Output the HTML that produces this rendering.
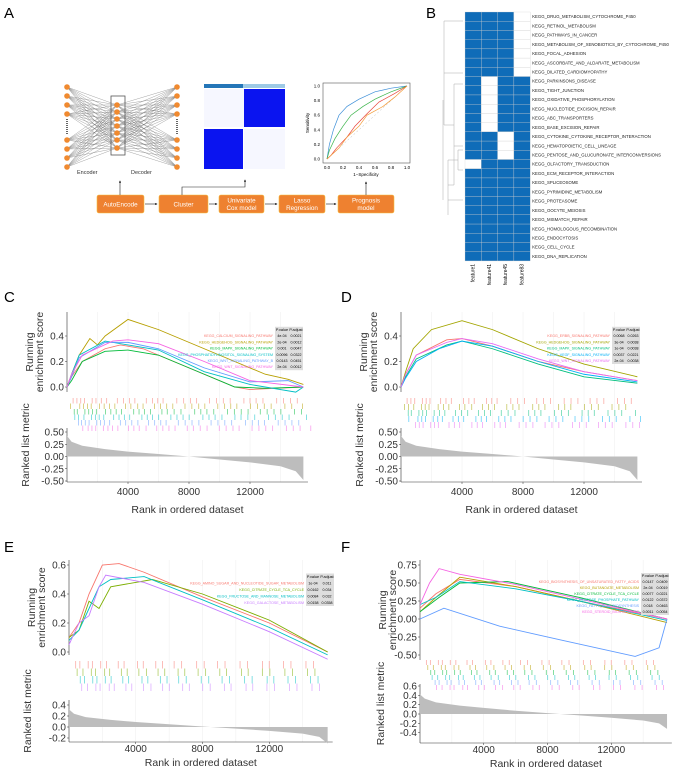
<!DOCTYPE html>
<html><head><meta charset="utf-8"><style>
body{margin:0;background:#fff;}
svg{display:block;font-family:"Liberation Sans",sans-serif;}
</style></head><body>
<svg id="fig" width="687" height="772" viewBox="0 0 687 772">
<g>
<text x="4" y="18" font-size="15">A</text>
<g id="net"></g>
<rect x="111" y="96" width="14" height="59" fill="none" stroke="#555" stroke-width="0.8"/>
<text x="77" y="174" font-size="5.5" fill="#333">Encoder</text>
<text x="131" y="174" font-size="5.5" fill="#333">Decoder</text>
<g>
<rect x="204" y="84" width="81" height="86" fill="#fff"/>
<rect x="204" y="84" width="39" height="4" fill="#2476b8"/>
<rect x="243" y="84" width="42" height="4" fill="#9ecae6"/>
<rect x="244" y="89" width="41" height="38" fill="#0a14f0"/>
<rect x="204" y="129" width="39" height="40" fill="#0a14f0"/>
<rect x="204" y="89" width="40" height="38" fill="#dde0ff" opacity="0.25"/>
<rect x="244" y="129" width="41" height="40" fill="#dde0ff" opacity="0.25"/>
</g>
<g id="roc"></g>
<g id="flow"></g>
</g>
<g id="pb">
<text x="426" y="18" font-size="15">B</text>
</g>
<g id="pc"><text x="4" y="302" font-size="15">C</text></g>
<g id="pd"><text x="341" y="302" font-size="15">D</text></g>
<g id="pe"><text x="4" y="552" font-size="15">E</text></g>
<g id="pf"><text x="341" y="552" font-size="15">F</text></g>
</svg>
<script>
// ---------- data ----------
const bRows=["KEGG_DRUG_METABOLISM_CYTOCHROME_P450","KEGG_RETINOL_METABOLISM","KEGG_PATHWAYS_IN_CANCER","KEGG_METABOLISM_OF_XENOBIOTICS_BY_CYTOCHROME_P450","KEGG_FOCAL_ADHESION","KEGG_ASCORBATE_AND_ALDARATE_METABOLISM","KEGG_DILATED_CARDIOMYOPATHY","KEGG_PARKINSONS_DISEASE","KEGG_TIGHT_JUNCTION","KEGG_OXIDATIVE_PHOSPHORYLATION","KEGG_NUCLEOTIDE_EXCISION_REPAIR","KEGG_ABC_TRANSPORTERS","KEGG_BASE_EXCISION_REPAIR","KEGG_CYTOKINE_CYTOKINE_RECEPTOR_INTERACTION","KEGG_HEMATOPOIETIC_CELL_LINEAGE","KEGG_PENTOSE_AND_GLUCURONATE_INTERCONVERSIONS","KEGG_OLFACTORY_TRANSDUCTION","KEGG_ECM_RECEPTOR_INTERACTION","KEGG_SPLICEOSOME","KEGG_PYRIMIDINE_METABOLISM","KEGG_PROTEASOME","KEGG_OOCYTE_MEIOSIS","KEGG_MISMATCH_REPAIR","KEGG_HOMOLOGOUS_RECOMBINATION","KEGG_ENDOCYTOSIS","KEGG_CELL_CYCLE","KEGG_DNA_REPLICATION"];
const bCols=["feature1","feature41","feature45","feature83"];
const bMatrix=[[1,1,1,0],[1,1,1,0],[1,1,1,0],[1,1,1,0],[1,1,1,0],[1,1,1,0],[1,1,1,0],
[1,0,1,1],[1,0,1,1],[1,0,1,1],[1,0,1,1],[1,0,1,1],[1,0,1,1],
[1,1,0,1],[1,1,0,1],[1,1,0,1],[0,1,1,1],[1,1,1,1],[1,1,1,1],[1,1,1,1],[1,1,1,1],[1,1,1,1],[1,1,1,1],[1,1,1,1],[1,1,1,1],[1,1,1,1],[1,1,1,1]];

const cNames=["KEGG_CALCIUM_SIGNALING_PATHWAY","KEGG_HEDGEHOG_SIGNALING_PATHWAY","KEGG_MAPK_SIGNALING_PATHWAY","KEGG_PHOSPHATIDYLINOSITOL_SIGNALING_SYSTEM","KEGG_WNT_SIGNALING_PATHWAY_B","KEGG_WNT_SIGNALING_PATHWAY"];
const cP=["4e-04","2e-04","0.001","0.0096","0.0143","2e-04"];
const cPadj=["0.0021","0.0012","0.0047","0.0322","0.0451","0.0012"];
const cRank=[[0,300,1000,2500,3500,5000,8000,11000,12000,15500],[0,300,800,1500,2000,2500,4000,6000,10000,13000,14500,15500],[0,300,1000,2500,4000,6000,9000,11000,13000,15500],[0,300,800,2500,4000,6000,9000,12000,15000,15500],[0,300,800,2500,4000,6000,9000,12000,14500,15500],[0,300,1000,3000,4000,6000,9000,12000,15500]];
const cES=[[0,0.08,0.2,0.3,0.33,0.3,0.15,0.0,-0.02,0],[0,0.1,0.25,0.38,0.33,0.4,0.53,0.45,0.25,0.1,0.06,0.02],[0,0.05,0.2,0.28,0.29,0.25,0.1,0.0,-0.01,0],[0,0.1,0.25,0.36,0.33,0.29,0.12,0.02,-0.04,0],[0,0.08,0.23,0.35,0.35,0.3,0.15,0.04,0.05,0],[0,0.1,0.25,0.36,0.37,0.34,0.2,0.05,0]];

const dNames=["KEGG_ERBB_SIGNALING_PATHWAY","KEGG_HEDGEHOG_SIGNALING_PATHWAY","KEGG_MAPK_SIGNALING_PATHWAY","KEGG_VEGF_SIGNALING_PATHWAY","KEGG_WNT_SIGNALING_PATHWAY"];
const dP=["0.0068","3e-04","1e-04","0.0037","2e-04"];
const dPadj=["0.0263","0.0038","0.0038","0.0221","0.0038"];
const dRank=[[0,300,1000,3000,4000,6000,9000,12000,15500],[0,300,800,2000,4000,6000,9000,12000,15500],[0,300,1000,3000,4000,6000,9000,12000,15500],[0,300,1000,2500,4000,6000,9000,12000,15500],[0,300,1000,3000,4000,6000,9000,12000,15500]];
const dES=[[0,0.1,0.25,0.37,0.38,0.32,0.2,0.12,0.05],[0,0.12,0.3,0.45,0.52,0.45,0.3,0.18,0.08],[0,0.08,0.22,0.33,0.36,0.3,0.18,0.08,0.03],[0,0.07,0.2,0.3,0.36,0.32,0.2,0.1,0.04],[0,0.1,0.25,0.35,0.38,0.34,0.22,0.12,0.05]];

const eNames=["KEGG_AMINO_SUGAR_AND_NUCLEOTIDE_SUGAR_METABOLISM","KEGG_CITRATE_CYCLE_TCA_CYCLE","KEGG_FRUCTOSE_AND_MANNOSE_METABOLISM","KEGG_GALACTOSE_METABOLISM"];
const eP=["1e-04","0.0162","0.0084","0.0158"];
const ePadj=["0.011","0.034","0.032","0.0358"];
const eRank=[[0,600,1200,2000,3000,4500,8000,12000,15500],[0,600,1200,1800,2500,5000,8000,12000,15500],[0,600,1200,1800,2500,4500,8000,12000,15500],[0,600,1200,1800,2200,4500,8000,12000,15500]];
const eES=[[0.1,0.2,0.4,0.6,0.61,0.55,0.38,0.2,0.0],[0.1,0.15,0.35,0.3,0.45,0.5,0.4,0.22,0.0],[0.08,0.15,0.3,0.45,0.5,0.52,0.36,0.17,-0.02],[0.05,0.2,0.25,0.45,0.53,0.48,0.33,0.14,-0.05]];

const fNames=["KEGG_BIOSYNTHESIS_OF_UNSATURATED_FATTY_ACIDS","KEGG_BUTANOATE_METABOLISM","KEGG_CITRATE_CYCLE_TCA_CYCLE","KEGG_PENTOSE_PHOSPHATE_PATHWAY","KEGG_FATTY_ACID_BIOSYNTHESIS","KEGG_STEROID_BIOSYNTHESIS"];
const fP=["0.0147","2e-04","0.0077","0.0122","0.018","0.0011"];
const fPadj=["0.0409","0.0019","0.0221","0.0372","0.0463","0.0054"];
const fRank=[[0,1000,2500,6000,10000,15500],[0,1000,2500,6000,10000,15500],[0,1200,2500,5500,10000,15500],[0,1000,2500,6000,10000,15500],[0,1500,5000,9000,13500,15000,15500],[0,600,1200,2500,6000,10000,15500]];
const fES=[[0.15,0.35,0.55,0.45,0.25,0.0],[0.1,0.3,0.58,0.45,0.25,-0.05],[0.1,0.3,0.5,0.52,0.3,0.0],[0.2,0.3,0.52,0.42,0.25,-0.02],[0.0,0.15,-0.1,-0.3,-0.52,-0.4,0.0],[0.2,0.5,0.7,0.62,0.48,0.28,0.0]];

const metricRank=[0,300,1000,2500,4000,6000,8000,10000,12000,14000,15000,15500];
const metricC=[0.42,0.3,0.22,0.15,0.1,0.05,0.0,-0.06,-0.12,-0.2,-0.3,-0.48];
const metricE=[0.32,0.24,0.18,0.13,0.09,0.05,0.01,-0.03,-0.07,-0.12,-0.18,-0.3];
const metricF=[0.42,0.33,0.25,0.18,0.13,0.07,0.02,-0.03,-0.08,-0.14,-0.2,-0.32];

const hitsA=[200,400,650,900,1150,1400,1650,1900,2250,2600,2950,3300,3700,4100,4450,4800,5200,5600,5950,6300,6750,7200,7650,8100,8500,8900,9350,9800,10250,10700,11150,11600,12000,12400,12850,13300,13750,14200,14650,15100];
const hitsB=[100,350,700,950,1200,1450,1700,2000,2300,2650,3000,3350,3700,4050,4500,4850,5200,5600,6000,6400,6800,7200,7600,8050,8500,8900,9300,9750,10200,10600,11000,11450,11900,12350,12800,13250,13700,14150,14600,15300];
const tickX=[4000,8000,12000];
const esTicksC=[0,0.2,0.4], esTicksE=[0,0.2,0.4,0.6], esTicksF=[-0.5,-0.25,0,0.25,0.5,0.75];
const mTicksC=[-0.5,-0.25,0,0.25,0.5], mTicksE=[-0.2,0,0.2,0.4], mTicksF=[-0.4,-0.2,0,0.2,0.4,0.6];

const NS="http://www.w3.org/2000/svg";
function mk(p,tag,at,txt){const e=document.createElementNS(NS,tag);for(const k in at)e.setAttribute(k,at[k]);if(txt!==undefined)e.textContent=txt;p.appendChild(e);return e;}

// ---------- panel A ----------
const net=document.getElementById('net');
const lY=[87,96,105,114,140,149,158,167], mY=[105,112,119,126,133,140,148];
for(const a of lY)for(const b of mY){mk(net,'line',{x1:67,y1:a,x2:117,y2:b,stroke:'#666','stroke-width':0.3});mk(net,'line',{x1:177,y1:a,x2:117,y2:b,stroke:'#666','stroke-width':0.3});}
for(const a of lY){for(const x of [67,177]){const c=mk(net,'circle',{cx:x,cy:a,r:2.8,fill:'#f08a30'});}}
for(const b of mY){const c=mk(net,'circle',{cx:117,cy:b,r:2.8,fill:'#f08a30'});}
for(const x of [67,177])mk(net,'line',{x1:x,y1:119,x2:x,y2:135,stroke:'#000','stroke-width':1.2,'stroke-dasharray':'1,1'});
const roc=document.getElementById('roc');
mk(roc,'rect',{x:323,y:83,width:87,height:80,fill:'none',stroke:'#555','stroke-width':0.6});
mk(roc,'line',{x1:327,y1:159,x2:407,y2:86,stroke:'#bbb','stroke-width':0.5,'stroke-dasharray':'2,2'});
const rocRank=[[0,0.03,0.08,0.15,0.25,0.4,0.6,0.8,1],[0,0.03,0.1,0.2,0.3,0.45,0.6,0.8,1],[0,0.05,0.12,0.25,0.35,0.5,0.65,0.85,1],[0,0.05,0.15,0.25,0.4,0.5,0.7,0.85,1]];
const rocSens=[[0,0.2,0.4,0.6,0.72,0.82,0.92,0.97,1],[0,0.12,0.28,0.45,0.6,0.72,0.82,0.92,1],[0,0.05,0.15,0.3,0.45,0.62,0.78,0.9,1],[0,0.05,0.15,0.3,0.45,0.6,0.72,0.85,1]];
const rocCol=['#3d8fd8','#3cb44b','#e8453c','#f39c3a'];
const rx=v=>327+v*80, ry=v=>159-v*73;
rocRank.forEach((r,i)=>{const p=mk(roc,'polyline',{points:r.map((v,j)=>rx(v)+','+ry(rocSens[i][j])).join(' '),fill:'none',stroke:rocCol[i],'stroke-width':0.7});});
[0,0.2,0.4,0.6,0.8,1].forEach(v=>{mk(roc,'text',{x:320,y:ry(v)+1.5,'font-size':4.5,'text-anchor':'end'},v.toFixed(1));mk(roc,'text',{x:rx(v),y:169,'font-size':4.5,'text-anchor':'middle'},v.toFixed(1));});
mk(roc,'text',{x:366,y:176,'font-size':4.5,'text-anchor':'middle'},'1−Specificity');
mk(roc,'text',{x:309,y:123,'font-size':4.5,'text-anchor':'middle',transform:'rotate(-90 309 123)'},'Sensitivity');
const flow=document.getElementById('flow');
const boxes=[["AutoEncode",97,47],["Cluster",159,49],["Univariate|Cox model",219,45],["Lasso|Regression",279,46],["Prognosis|model",338,56]];
boxes.forEach((b,i)=>{const g=mk(flow,'g',{});
mk(g,'rect',{x:b[1],y:195,width:b[2],height:18,rx:2,fill:'#ee8130',stroke:'#f5c040','stroke-width':0.6});
const ls=b[0].split('|');ls.forEach((t,k)=>mk(g,'text',{x:b[1]+b[2]/2,y:ls.length==1?206.5:202.5+k*7.5,'font-size':6.3,fill:'#fff','text-anchor':'middle'},t));
if(i<4)mk(flow,'line',{x1:b[1]+b[2]+1,y1:204,x2:boxes[i+1][1]-2,y2:204,stroke:'#222','stroke-width':0.6,'marker-end':'url(#ar)'});});
const defs=mk(document.getElementById('fig'),'defs',{});const mkr=mk(defs,'marker',{id:'ar',markerWidth:4,markerHeight:4,refX:3,refY:2,orient:'auto'});mk(mkr,'path',{d:'M0,0 L4,2 L0,4z',fill:'#222'});
mk(flow,'line',{x1:120,y1:195,x2:120,y2:181,stroke:'#222','stroke-width':0.6,'marker-end':'url(#ar)'});
mk(flow,'polyline',{points:'182,195 182,187 245,187 245,180',fill:'none',stroke:'#222','stroke-width':0.6,'marker-end':'url(#ar)'});
mk(flow,'line',{x1:366,y1:195,x2:366,y2:182,stroke:'#222','stroke-width':0.6,'marker-end':'url(#ar)'});

// ---------- panel B ----------
const pb=document.getElementById('pb');
const bx0=465,by0=12,cw=16.3,rh=9.22;
bMatrix.forEach((row,r)=>{row.forEach((v,c)=>{const e=mk(pb,'rect',{x:bx0+c*cw,y:by0+r*rh,width:cw,height:rh,fill:v?'#0f6cb8':'#fff',stroke:'#ccc','stroke-width':0.3});});
const t=mk(pb,'text',{x:bx0+4*cw+2,y:by0+r*rh+6.2,'font-size':4.3,fill:'#222'},bRows[r]);});
bCols.forEach((c,i)=>{const x=bx0+i*cw+cw/2+1.5,y=by0+27*rh+3;const t=mk(pb,'text',{x:x,y:y,'font-size':5,transform:`rotate(-90 ${x} ${y})`,'text-anchor':'end'},c);});
mk(pb,'path',{d:'M463,21 H444 V125 M444,73 H463 M444,125 H454 V84 H463 M454,125 V185 M454,146 H463 M454,185 H448 V160 H458 V150 H463 M458,160 V170 H463 M448,185 V215 M448,200 H463 M443,100 V200',fill:'none',stroke:'#aaa','stroke-width':0.5,});

// ---------- GSEA panels ----------
function gsea(id,cfg){
 const g=document.getElementById(id);
 const X=v=>cfg.x0+v*(cfg.x1-cfg.x0)/16000;
 const Y=v=>cfg.e0+(v-cfg.eRef)*(cfg.e1-cfg.e0)/(cfg.eTop-cfg.eRef);
 const M=v=>cfg.m0+(v-cfg.mRef)*(cfg.m1-cfg.m0)/(cfg.mTop-cfg.mRef);
 const right=X(15800);
 [2000,4000,6000,8000,10000,12000,14000].forEach(v=>mk(g,'line',{x1:X(v),y1:cfg.top,x2:X(v),y2:cfg.bot,stroke:'#eee','stroke-width':0.5}));
 mk(g,'line',{x1:cfg.x0,y1:cfg.top,x2:cfg.x0,y2:cfg.esBot,stroke:'#333','stroke-width':0.6});
 mk(g,'line',{x1:cfg.x0,y1:cfg.mTopY,x2:cfg.x0,y2:cfg.bot,stroke:'#333','stroke-width':0.6});
 mk(g,'line',{x1:cfg.x0,y1:cfg.bot,x2:right,y2:cfg.bot,stroke:'#333','stroke-width':0.6});
 cfg.esTicks.forEach(v=>{mk(g,'line',{x1:cfg.x0-2,y1:Y(v),x2:cfg.x0,y2:Y(v),stroke:'#333','stroke-width':0.5});mk(g,'text',{x:cfg.x0-3,y:Y(v)+3.5,'font-size':10,fill:'#333','text-anchor':'end'},v.toFixed(cfg.dec));});
 cfg.mTicks.forEach(v=>{mk(g,'line',{x1:cfg.x0-2,y1:M(v),x2:cfg.x0,y2:M(v),stroke:'#333','stroke-width':0.5});mk(g,'text',{x:cfg.x0-3,y:M(v)+3.5,'font-size':10,fill:'#333','text-anchor':'end'},v.toFixed(cfg.mdec));});
 tickX.forEach(v=>{mk(g,'line',{x1:X(v),y1:cfg.bot,x2:X(v),y2:cfg.bot+2,stroke:'#333','stroke-width':0.5});mk(g,'text',{x:X(v),y:cfg.bot+cfg.tOff,'font-size':10,fill:'#333','text-anchor':'middle'},String(v));});
 const xt=mk(g,'text',{x:(cfg.x0+right)/2,y:cfg.bot+cfg.ttOff,'font-size':10.5,fill:'#333','text-anchor':'middle'},'Rank in ordered dataset');
 const ey=(cfg.top+cfg.esBot)/2;
 const t1=mk(g,'text',{x:cfg.x0-34,y:ey,'font-size':10.5,fill:'#333','text-anchor':'middle',transform:`rotate(-90 ${cfg.x0-34} ${ey})`},'Running');
 mk(g,'text',{x:cfg.x0-24,y:ey,'font-size':10.5,fill:'#333','text-anchor':'middle',transform:`rotate(-90 ${cfg.x0-24} ${ey})`},'enrichment score');
 const my=(cfg.mTopY+cfg.bot)/2-10;
 const mxo=cfg.x0-(cfg.id=='f'?36:38);
 const t2=mk(g,'text',{x:mxo,y:my,'font-size':10.5,fill:'#333','text-anchor':'middle',transform:`rotate(-90 ${mxo} ${my})`},'Ranked list metric');
 const pts=cfg.metric.map((v,i)=>X(cfg.mRank[i])+','+M(v));
 const a=mk(g,'polygon',{points:X(0)+','+M(0)+' '+pts.join(' ')+' '+X(15500)+','+M(0),fill:'#bdbdbd'});
 cfg.ranks.forEach((r,i)=>{const hits=i%2?hitsB:hitsA;const yy=cfg.rugTop+i*cfg.rugH;hits.forEach((h,k)=>{if((k*7+i*3)%cfg.skip==0)return;const ln=mk(g,'line',{x1:X(h+i*137),y1:yy,x2:X(h+i*137),y2:yy+cfg.rugH,stroke:cfg.cols[i],'stroke-width':0.8,opacity:0.6});});});
 cfg.ranks.forEach((r,i)=>{const p=r.map((v,j)=>X(v)+','+Y(cfg.es[i][j]));
  const l=mk(g,'polyline',{points:p.join(' '),fill:'none',stroke:cfg.cols[i],'stroke-width':0.9});});
 const lx=cfg.legX, ly=cfg.legY, rh=cfg.legH;
 mk(g,'rect',{x:lx,y:ly-rh,width:28,height:rh*(cfg.names.length+1),fill:'#ddd'});
 mk(g,'text',{x:lx+7,y:ly-2,'font-size':3.8,'text-anchor':'middle'},'P.value');mk(g,'text',{x:lx+21,y:ly-2,'font-size':3.8,'text-anchor':'middle'},'P.adjust');
 cfg.names.forEach((n,i)=>{const yy=ly+(i+1)*rh-2;const t=mk(g,'text',{x:lx-2,y:yy,'font-size':3.6,fill:cfg.cols[i],'text-anchor':'end'},n);
  mk(g,'text',{x:lx+7,y:yy,'font-size':3.6,'text-anchor':'middle'},cfg.p[i]);mk(g,'text',{x:lx+21,y:yy,'font-size':3.6,'text-anchor':'middle'},cfg.padj[i]);});
}
gsea('pc',{id:'c',x0:67,x1:311,top:312,esBot:392,bot:482,tOff:13,ttOff:31,e0:387,eRef:0,e1:336,eTop:0.4,m0:432,mRef:0.5,m1:481,mTop:-0.5,mTopY:428,esTicks:esTicksC,mTicks:mTicksC,dec:1,mdec:2,metric:metricC,mRank:metricRank,ranks:cRank,es:cES,cols:['#f8766d','#b79f00','#00ba38','#00bfc4','#619cff','#f564e3'],rugTop:398,rugH:5.5,skip:5,names:cNames,p:cP,padj:cPadj,legX:275,legY:333,legH:6.2});
gsea('pd',{id:'d',x0:401,x1:645,top:312,esBot:392,bot:482,tOff:13,ttOff:31,e0:387,eRef:0,e1:336,eTop:0.4,m0:432,mRef:0.5,m1:481,mTop:-0.5,mTopY:428,esTicks:esTicksC,mTicks:mTicksC,dec:1,mdec:2,metric:metricC,mRank:metricRank,ranks:dRank,es:dES,cols:['#f8766d','#a3a500','#00bf7d','#00b0f6','#e76bf3'],rugTop:398,rugH:6,skip:4,names:dNames,p:dP,padj:dPadj,legX:612,legY:333,legH:6.2});
gsea('pe',{id:'e',x0:69,x1:336,top:560,esBot:655,bot:742,tOff:10,ttOff:24,e0:652,eRef:0,e1:565,eTop:0.6,m0:727,mRef:0,m1:705,mTop:0.4,mTopY:700,esTicks:esTicksE,mTicks:mTicksE,dec:1,mdec:1,metric:metricE,mRank:metricRank,ranks:eRank,es:eES,cols:['#f8766d','#7cae00','#00bfc4','#c77cff'],rugTop:661,rugH:7.5,skip:3,names:eNames,p:eP,padj:ePadj,legX:306,legY:580,legH:6.5});
gsea('pf',{id:'f',x0:420,x1:675,top:560,esBot:660,bot:743,tOff:10,ttOff:24,e0:619,eRef:0,e1:565,eTop:0.75,m0:714,mRef:0,m1:686,mTop:0.6,mTopY:684,esTicks:esTicksF,mTicks:mTicksF,dec:2,mdec:1,metric:metricF,mRank:metricRank,ranks:fRank,es:fES,cols:['#f8766d','#b79f00','#00ba38','#00bfc4','#619cff','#f564e3'],rugTop:660,rugH:5,skip:3,names:fNames,p:fP,padj:fPadj,legX:641,legY:579,legH:6});
</script>
</body></html>
